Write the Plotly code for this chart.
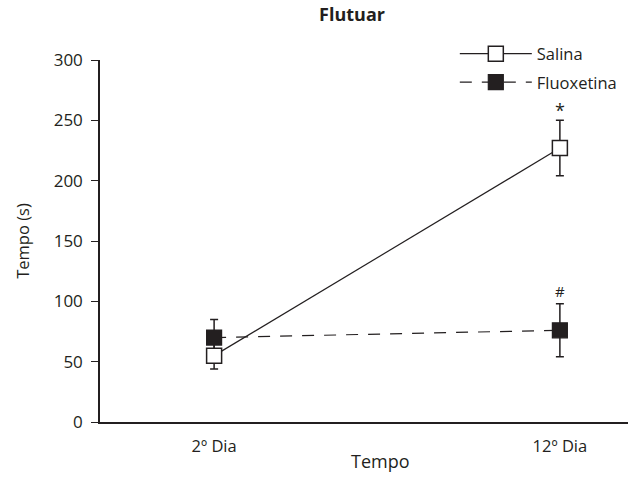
import plotly.graph_objects as go

days = ["2º Dia", "12º Dia"]
salina_mean = [55, 227]
salina_err = [11, 23]
fluox_mean = [70, 76]
fluox_err_plus = [15, 22]
fluox_err_minus = [13, 22]
y_ticks = [0, 50, 100, 150, 200, 250, 300]
sig_marks = ["*", "#"]

ink = "#231f20"
font = "Open Sans"
fs = 16.5

fig = go.Figure()
fig.add_trace(go.Scatter(
    x=days, y=fluox_mean, name="Fluoxetina", mode="lines+markers",
    legendrank=2, legendgroup="b",
    line=dict(color=ink, width=1.2, dash="12px,10px"),
    marker=dict(symbol="square", size=15, color=ink, line=dict(color=ink, width=1.2)),
    error_y=dict(type="data", array=fluox_err_plus, arrayminus=fluox_err_minus,
                 color=ink, thickness=1.5, width=4),
))
fig.add_trace(go.Scatter(
    x=days, y=salina_mean, name="Salina", mode="lines+markers",
    legendrank=1, legendgroup="a",
    line=dict(color=ink, width=1.2),
    marker=dict(symbol="square", size=15, color="white", line=dict(color=ink, width=1.5)),
    error_y=dict(type="data", array=salina_err, color=ink, thickness=1.5, width=4),
))

# significance marks above error bars
fig.add_annotation(x=days[1], y=salina_mean[1] + salina_err[1], text=sig_marks[0],
                   showarrow=False, yshift=10, font=dict(size=18, color=ink, family=font))
fig.add_annotation(x=days[1], y=fluox_mean[1] + fluox_err_plus[1], text=sig_marks[1],
                   showarrow=False, yshift=13, font=dict(size=15, color=ink, family=font))

fig.add_annotation(x=(380 - 100) / 528, y=0, xref="paper", yref="paper", yanchor="top",
                   yshift=-25, text="Tempo", showarrow=False,
                   font=dict(size=18, color=ink, family=font))

fig.update_layout(
    width=632, height=479,
    margin=dict(l=100, r=4, t=60, b=57, autoexpand=False),
    paper_bgcolor="white", plot_bgcolor="white",
    font=dict(family=font, size=fs, color=ink),
    title=dict(text="<b>Flutuar</b>", x=352 / 632, xanchor="center", y=1 - 15 / 479,
               yanchor="middle", font=dict(size=18, family=font, color=ink)),
    showlegend=True,
    legend=dict(x=0.672, xanchor="left", y=1.065, yanchor="top", itemwidth=72,
                bgcolor="rgba(0,0,0,0)", font=dict(size=fs, family=font, color=ink),
                traceorder="grouped", tracegroupgap=4),
    xaxis=dict(type="category", range=[-0.33, 1.197], showline=True, linecolor=ink,
               linewidth=1.5, ticks="", showgrid=False, zeroline=False,
               ticklabelstandoff=8,
               tickfont=dict(size=fs, family=font, color=ink)),
    yaxis=dict(range=[0, 300], tickvals=y_ticks, showline=True, linecolor=ink,
               linewidth=1.5, ticks="outside", ticklen=7, tickwidth=1.2, tickcolor=ink,
               showgrid=False, zeroline=False, ticklabelstandoff=5,
               title=dict(text="Tempo (s)", standoff=20, font=dict(size=fs, family=font, color=ink)),
               tickfont=dict(size=17, family=font, color=ink)),
)

fig.write_html("out.html", config={"displayModeBar": False},
               post_script="document.body.style.margin='0';document.body.style.overflow='hidden';")
